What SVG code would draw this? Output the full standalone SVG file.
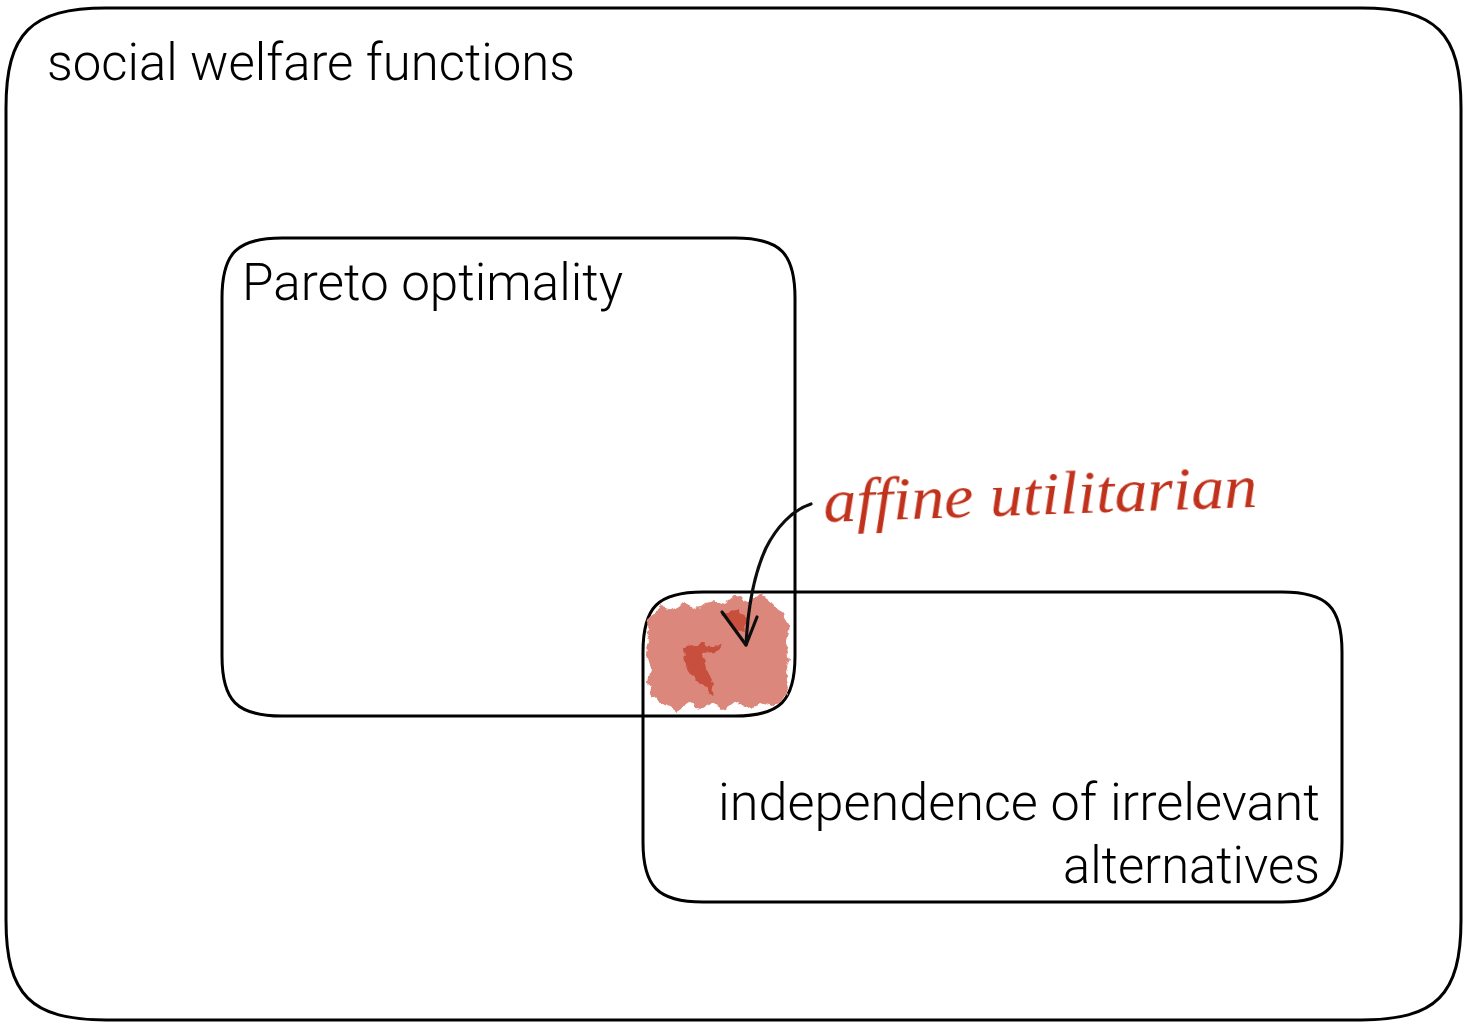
<svg xmlns="http://www.w3.org/2000/svg" width="1463" height="1025" viewBox="0 0 1463 1025">
  <style>
    .box { fill: none; stroke: #000; stroke-width: 3; }
    .label { font-family: Roboto, "Liberation Sans", Arial, sans-serif; font-weight: 300; font-size: 52px; fill: #000; }
    .hand { font-family: "Liberation Serif", "DejaVu Serif", serif; font-style: italic; font-size: 62px; fill: #c0311a; }
    .blob { fill: #dc877c; }
    .streak { fill: #c8503c; }
    .pen { fill: none; stroke: #111; stroke-width: 3.2; stroke-linecap: round; stroke-linejoin: round; }
  </style>
  <defs>
    <filter id="rough" x="-10%" y="-10%" width="120%" height="120%">
      <feTurbulence type="fractalNoise" baseFrequency="0.12" numOctaves="2" seed="4" result="n"/>
      <feDisplacementMap in="SourceGraphic" in2="n" scale="8" xChannelSelector="R" yChannelSelector="G"/>
    </filter>
    <filter id="grain" x="-10%" y="-10%" width="120%" height="120%">
      <feTurbulence type="fractalNoise" baseFrequency="0.6" numOctaves="1" seed="2" result="n"/>
      <feDisplacementMap in="SourceGraphic" in2="n" scale="1.6" xChannelSelector="R" yChannelSelector="G"/>
    </filter>
  </defs>

  <rect width="1463" height="1025" fill="#fff"/>

  <!-- outer set -->
  <g id="social-welfare-functions">
    <path class="box" d="M106,8 H1361 C1436,8 1461,33 1461,108 V920 C1461,995 1436,1020 1361,1020 H106 C31,1020 6,995 6,920 V108 C6,33 31,8 106,8 Z"/>
    <text class="label" x="47" y="80" textLength="528" lengthAdjust="spacingAndGlyphs">social welfare functions</text>
  </g>

  <!-- Pareto set -->
  <g id="pareto-optimality">
    <path class="box" d="M282,238 H735 C780,238 795,253 795,298 V656 C795,701 780,716 735,716 H282 C237,716 222,701 222,656 V298 C222,253 237,238 282,238 Z"/>
    <text class="label" x="242" y="300" textLength="381" lengthAdjust="spacingAndGlyphs">Pareto optimality</text>
  </g>

  <!-- IIA set -->
  <g id="independence-of-irrelevant-alternatives">
    <path class="box" d="M703,592 H1282 C1327,592 1342,607 1342,652 V842 C1342,887 1327,902 1282,902 H703 C658,902 643,887 643,842 V652 C643,607 658,592 703,592 Z"/>
    <text class="label" x="1320" y="820" text-anchor="end" textLength="602" lengthAdjust="spacingAndGlyphs">independence of irrelevant</text>
    <text class="label" x="1320" y="883" text-anchor="end" textLength="257" lengthAdjust="spacingAndGlyphs">alternatives</text>
  </g>

  <!-- shaded intersection -->
  <g id="affine-utilitarian-region" filter="url(#rough)">
    <path class="blob" d="M652,614 L662,607 L672,610 L684,603 L696,609 L712,601 L724,605 L735,596 L748,601 L760,595 L772,602 L782,612 L789,628 L785,642 L790,658 L786,672 L790,688 L782,700 L772,707 L760,703 L748,708 L736,702 L724,710 L712,703 L700,709 L688,703 L676,711 L664,704 L652,696 L648,682 L651,668 L646,652 L650,638 L646,626 Z"/>
    <path class="streak" d="M683,647 L700,644 L724,646 L716,652 L702,653 L706,668 L714,684 L712,694 L700,684 L692,676 L684,664 Z"/>
    <path class="streak" d="M722,614 L738,609 L748,620 L742,632 L732,626 Z"/>
  </g>

  <!-- annotation -->
  <g id="affine-utilitarian-label">
    <text class="hand" x="824" y="522" transform="rotate(-2 824 522)" textLength="434" lengthAdjust="spacingAndGlyphs" filter="url(#grain)">affine utilitarian</text>
  </g>

  <g id="connectors">
    <path class="pen" filter="url(#grain)" d="M811,504 C792,510 776,528 766,548 C754,574 748,606 746,645"/>
    <path class="pen" filter="url(#grain)" d="M722,612 L746,645 L757,617"/>
  </g>
</svg>
